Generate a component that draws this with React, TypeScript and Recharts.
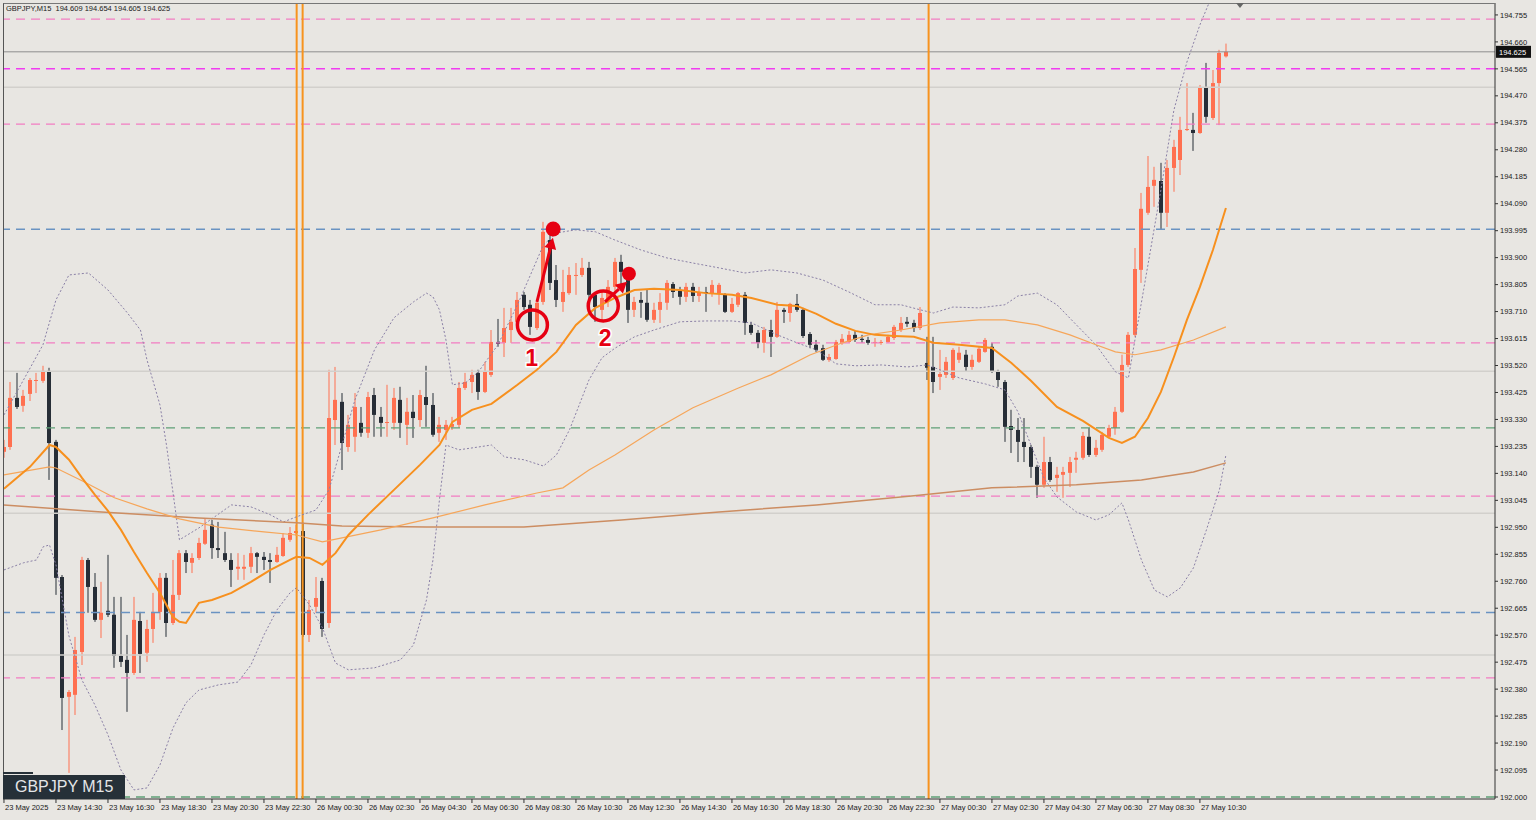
// GBPJPY M15 candlestick chart with MAs, Bollinger bands and levels
import React from 'react'
import { ComposedChart, XAxis, YAxis, Bar, Line, ReferenceLine, ReferenceDot } from 'recharts'

const opens = [
  193.216, 193.233, 193.406, 193.378, 193.420, 193.466, 193.466, 193.501, 193.251, 192.775,
  192.353, 192.360, 192.511, 192.835, 192.740, 192.624, 192.656, 192.642, 192.497, 192.483,
  192.437, 192.620, 192.508, 192.592, 192.652, 192.772, 192.613, 192.712, 192.859, 192.825,
  192.842, 192.892, 192.959, 192.877, 192.859, 192.835, 192.804, 192.804, 192.811, 192.859,
  192.846, 192.835, 192.828, 192.849, 192.906, 192.930, 192.937, 192.571, 192.670, 192.761,
  192.613, 193.328, 193.392, 193.233, 193.269, 193.318, 193.283, 193.416, 193.339, 193.318,
  193.318, 193.399, 193.311, 193.357, 193.328, 193.409, 193.381, 193.283, 193.293, 193.304,
  193.311, 193.441, 193.462, 193.494, 193.427, 193.487, 193.603, 193.600, 193.645, 193.674,
  193.769, 193.734, 193.652, 193.744, 193.962, 193.821, 193.744, 193.775, 193.836, 193.839,
  193.864, 193.769, 193.716, 193.751, 193.797, 193.885, 193.821, 193.716, 193.751, 193.741,
  193.681, 193.716, 193.741, 193.807, 193.783, 193.762, 193.797, 193.765, 193.779, 193.775,
  193.775, 193.769, 193.709, 193.734, 193.769, 193.663, 193.635, 193.600, 193.645, 193.621,
  193.716, 193.705, 193.737, 193.716, 193.631, 193.593, 193.581, 193.540, 193.543, 193.600,
  193.603, 193.628, 193.614, 193.610, 193.600, 193.600, 193.603, 193.617, 193.645, 193.674,
  193.670, 193.652, 193.529, 193.515, 193.480, 193.487, 193.476, 193.540, 193.558, 193.515,
  193.533, 193.568, 193.586, 193.498, 193.462, 193.307, 193.293, 193.251, 193.233, 193.163,
  193.100, 193.180, 193.124, 193.135, 193.142, 193.188, 193.195, 193.269, 193.205, 193.223,
  193.269, 193.300, 193.357, 193.522, 193.628, 193.857, 194.058, 194.153, 194.170, 194.058,
  194.216, 194.244, 194.350, 194.350, 194.339, 194.498, 194.392, 194.515, 194.609,
]
const highs = [
  193.258, 193.462, 193.494, 193.434, 193.476, 193.494, 193.519, 193.512, 193.258, 192.782,
  192.377, 192.564, 192.846, 192.842, 192.789, 192.758, 192.853, 192.705, 192.705, 192.571,
  192.705, 192.652, 192.624, 192.719, 192.789, 192.789, 192.835, 192.870, 192.870, 192.859,
  192.913, 192.980, 192.976, 192.969, 192.934, 192.859, 192.859, 192.853, 192.881, 192.863,
  192.863, 192.859, 192.881, 192.930, 192.951, 192.959, 192.966, 192.694, 192.775, 192.772,
  193.505, 193.515, 193.423, 193.346, 193.423, 193.374, 193.427, 193.441, 193.374, 193.452,
  193.441, 193.445, 193.406, 193.416, 193.434, 193.519, 193.423, 193.339, 193.328, 193.339,
  193.462, 193.494, 193.505, 193.505, 193.533, 193.645, 193.684, 193.723, 193.723, 193.779,
  193.779, 193.751, 193.751, 194.026, 193.998, 193.874, 193.857, 193.867, 193.881, 193.899,
  193.885, 193.779, 193.779, 193.821, 193.899, 193.910, 193.846, 193.762, 193.779, 193.786,
  193.741, 193.775, 193.821, 193.814, 193.797, 193.811, 193.811, 193.797, 193.797, 193.821,
  193.811, 193.775, 193.758, 193.779, 193.779, 193.674, 193.645, 193.656, 193.681, 193.744,
  193.723, 193.741, 193.772, 193.723, 193.638, 193.610, 193.593, 193.561, 193.610, 193.631,
  193.642, 193.642, 193.628, 193.621, 193.617, 193.610, 193.628, 193.663, 193.691, 193.691,
  193.681, 193.726, 193.621, 193.621, 193.575, 193.550, 193.581, 193.586, 193.575, 193.558,
  193.586, 193.617, 193.600, 193.505, 193.469, 193.364, 193.335, 193.335, 193.240, 193.170,
  193.269, 193.198, 193.163, 193.163, 193.198, 193.216, 193.286, 193.300, 193.258, 193.286,
  193.311, 193.374, 193.558, 193.638, 193.934, 194.128, 194.258, 194.220, 194.234, 194.244,
  194.315, 194.396, 194.515, 194.410, 194.508, 194.586, 194.561, 194.632, 194.654,
]
const lows = [
  193.195, 193.223, 193.367, 193.357, 193.395, 193.423, 193.459, 193.117, 192.712, 192.236,
  192.085, 192.289, 192.465, 192.649, 192.617, 192.560, 192.634, 192.455, 192.458, 192.300,
  192.430, 192.437, 192.476, 192.543, 192.624, 192.564, 192.606, 192.694, 192.789, 192.789,
  192.835, 192.888, 192.839, 192.842, 192.828, 192.740, 192.765, 192.765, 192.789, 192.789,
  192.800, 192.754, 192.825, 192.846, 192.899, 192.920, 192.564, 192.546, 192.649, 192.564,
  192.596, 193.240, 193.152, 193.216, 193.216, 193.269, 193.265, 193.269, 193.269, 193.269,
  193.293, 193.265, 193.240, 193.265, 193.304, 193.304, 193.269, 193.251, 193.258, 193.293,
  193.300, 193.434, 193.423, 193.399, 193.423, 193.480, 193.586, 193.550, 193.600, 193.663,
  193.716, 193.628, 193.645, 193.734, 193.786, 193.726, 193.709, 193.769, 193.769, 193.832,
  193.726, 193.674, 193.674, 193.726, 193.779, 193.804, 193.670, 193.691, 193.688, 193.674,
  193.670, 193.670, 193.716, 193.758, 193.734, 193.744, 193.744, 193.744, 193.709, 193.762,
  193.734, 193.705, 193.705, 193.726, 193.628, 193.628, 193.581, 193.565, 193.550, 193.617,
  193.670, 193.674, 193.709, 193.617, 193.581, 193.568, 193.536, 193.533, 193.540, 193.593,
  193.600, 193.603, 193.600, 193.593, 193.586, 193.593, 193.600, 193.610, 193.638, 193.656,
  193.638, 193.645, 193.469, 193.423, 193.434, 193.476, 193.469, 193.529, 193.498, 193.505,
  193.529, 193.565, 193.494, 193.445, 193.251, 193.212, 193.180, 193.180, 193.124, 193.054,
  193.089, 193.110, 193.075, 193.054, 193.092, 193.142, 193.188, 193.198, 193.198, 193.216,
  193.265, 193.276, 193.353, 193.515, 193.621, 193.811, 194.051, 194.079, 193.998, 194.008,
  194.132, 194.191, 194.346, 194.276, 194.336, 194.375, 194.385, 194.367, 194.605,
]
const closes = [
  193.233, 193.406, 193.374, 193.413, 193.469, 193.469, 193.501, 193.247, 192.772, 192.349,
  192.370, 192.518, 192.835, 192.740, 192.624, 192.649, 192.642, 192.497, 192.476, 192.437,
  192.624, 192.504, 192.592, 192.652, 192.772, 192.613, 192.712, 192.859, 192.828, 192.842,
  192.895, 192.941, 192.877, 192.870, 192.835, 192.800, 192.811, 192.811, 192.859, 192.846,
  192.835, 192.828, 192.853, 192.913, 192.930, 192.937, 192.571, 192.659, 192.701, 192.592,
  193.335, 193.399, 193.247, 193.311, 193.374, 193.283, 193.409, 193.346, 193.318, 193.321,
  193.406, 193.318, 193.357, 193.335, 193.416, 193.381, 193.276, 193.311, 193.311, 193.314,
  193.441, 193.462, 193.487, 193.427, 193.498, 193.603, 193.596, 193.652, 193.674, 193.751,
  193.726, 193.656, 193.741, 193.991, 193.811, 193.751, 193.779, 193.839, 193.839, 193.864,
  193.769, 193.726, 193.758, 193.797, 193.885, 193.850, 193.716, 193.744, 193.741, 193.681,
  193.716, 193.744, 193.811, 193.779, 193.762, 193.797, 193.765, 193.779, 193.775, 193.804,
  193.804, 193.709, 193.737, 193.775, 193.670, 193.635, 193.600, 193.645, 193.621, 193.716,
  193.709, 193.737, 193.716, 193.624, 193.593, 193.575, 193.540, 193.550, 193.603, 193.614,
  193.628, 193.610, 193.610, 193.600, 193.603, 193.603, 193.621, 193.656, 193.670, 193.667,
  193.652, 193.705, 193.512, 193.462, 193.490, 193.533, 193.575, 193.565, 193.515, 193.540,
  193.579, 193.610, 193.498, 193.469, 193.304, 193.293, 193.251, 193.233, 193.163, 193.100,
  193.180, 193.117, 193.135, 193.145, 193.180, 193.195, 193.272, 193.205, 193.230, 193.276,
  193.300, 193.357, 193.522, 193.628, 193.860, 194.072, 194.149, 194.174, 194.058, 194.216,
  194.290, 194.350, 194.353, 194.339, 194.501, 194.396, 194.515, 194.621, 194.625,
]

// indicator readings: [bar index, price]
const ma20Pts = [
  [0, 193.086], [4, 193.163], [7, 193.240], [8, 193.233], [10, 193.188], [12, 193.124], [14, 193.064],
  [16, 193.008], [18, 192.941], [20, 192.863], [22, 192.789], [24, 192.719], [26, 192.634], [27, 192.617],
  [28, 192.613], [30, 192.684], [32, 192.694], [35, 192.719], [38, 192.758], [41, 192.800], [44, 192.835],
  [45, 192.846], [47, 192.842], [49, 192.818], [51, 192.859], [53, 192.923], [56, 192.994], [60, 193.082],
  [64, 193.170], [67, 193.240], [69, 193.321], [72, 193.364], [75, 193.385], [79, 193.452], [82, 193.505],
  [85, 193.568], [88, 193.663], [91, 193.723], [94, 193.758], [97, 193.786], [100, 193.790], [104, 193.786],
  [108, 193.775], [112, 193.769], [115, 193.758], [119, 193.734], [122, 193.730], [125, 193.702],
  [128, 193.667], [131, 193.642], [134, 193.628], [137, 193.624], [140, 193.621], [143, 193.600],
  [147, 193.593], [152, 193.582], [155, 193.529], [158, 193.466], [162, 193.374], [166, 193.325],
  [170, 193.265], [172, 193.247], [174, 193.269], [176, 193.335], [178, 193.427], [180, 193.550],
  [182, 193.681], [184, 193.797], [186, 193.927], [188, 194.075],
]
const ma75Pts = [
  [0, 193.135], [7, 193.163], [8, 193.159], [12, 193.114], [17, 193.054], [22, 193.015], [27, 192.980],
  [33, 192.951], [40, 192.934], [45, 192.923], [49, 192.899], [52, 192.913], [58, 192.941], [66, 192.983],
  [74, 193.029], [82, 193.071], [86, 193.089], [90, 193.152], [94, 193.205], [100, 193.293], [106, 193.371],
  [113, 193.441], [118, 193.487], [124, 193.557], [129, 193.600], [133, 193.628], [138, 193.645],
  [144, 193.670], [150, 193.681], [154, 193.681], [159, 193.663], [164, 193.628], [168, 193.593],
  [171, 193.568], [174, 193.558], [178, 193.575], [183, 193.610], [188, 193.656],
]
const ma200Pts = [
  [0, 193.029], [15, 193.004], [30, 192.983], [45, 192.966], [52, 192.955], [65, 192.951], [80, 192.951],
  [95, 192.976], [110, 193.004], [125, 193.029], [140, 193.061], [152, 193.089], [165, 193.100],
  [175, 193.117], [183, 193.145], [188, 193.177],
]
const bbUpperPts = [
  [0, 193.346], [3, 193.469], [6, 193.593], [8, 193.751], [10, 193.839], [13, 193.846], [16, 193.786],
  [19, 193.705], [21, 193.645], [22, 193.540], [24, 193.381], [25, 193.240], [27, 192.906], [30, 192.948],
  [35, 193.029], [38, 193.022], [41, 192.994], [43, 192.969], [45, 192.987], [48, 193.011], [50, 193.082],
  [52, 193.240], [54, 193.399], [57, 193.575], [60, 193.688], [63, 193.744], [65, 193.775], [66, 193.762],
  [67, 193.716], [68, 193.610], [69, 193.452], [71, 193.459], [73, 193.498], [76, 193.593], [79, 193.734],
  [81, 193.839], [83, 193.945], [85, 193.987], [88, 193.998], [91, 193.991], [94, 193.962], [98, 193.927],
  [102, 193.899], [106, 193.881], [110, 193.864], [114, 193.846], [118, 193.857], [122, 193.846],
  [126, 193.821], [130, 193.779], [134, 193.734], [138, 193.734], [141, 193.716], [143, 193.705],
  [146, 193.726], [150, 193.723], [154, 193.734], [156, 193.765], [159, 193.775], [162, 193.734],
  [165, 193.663], [168, 193.593], [171, 193.498], [173, 193.476], [174, 193.610], [176, 193.874],
  [178, 194.139], [180, 194.420], [182, 194.589], [184, 194.720], [186, 194.830], [188, 194.920],
]
const bbLowerPts = [
  [0, 192.800], [3, 192.825], [5, 192.835], [6, 192.881], [7, 192.888], [8, 192.818], [10, 192.567],
  [12, 192.412], [14, 192.324], [16, 192.219], [18, 192.095], [20, 192.025], [22, 192.032], [24, 192.113],
  [26, 192.243], [28, 192.332], [30, 192.377], [33, 192.395], [36, 192.405], [38, 192.465], [40, 192.571],
  [42, 192.659], [44, 192.719], [45, 192.737], [47, 192.677], [49, 192.596], [51, 192.472], [53, 192.448],
  [57, 192.455], [61, 192.483], [63, 192.536], [65, 192.694], [66, 192.835], [67, 193.047], [68, 193.240],
  [70, 193.223], [73, 193.233], [75, 193.240], [77, 193.198], [80, 193.188], [83, 193.166], [85, 193.205],
  [87, 193.293], [90, 193.469], [92, 193.547], [94, 193.581], [97, 193.621], [100, 193.645], [104, 193.674],
  [108, 193.677], [112, 193.677], [115, 193.670], [119, 193.628], [122, 193.600], [125, 193.575],
  [128, 193.526], [131, 193.519], [135, 193.522], [139, 193.515], [142, 193.522], [144, 193.505],
  [147, 193.476], [151, 193.455], [154, 193.434], [156, 193.357], [158, 193.240], [160, 193.124],
  [162, 193.057], [165, 193.004], [168, 192.976], [170, 192.994], [172, 193.036], [173, 192.976],
  [175, 192.835], [177, 192.729], [179, 192.705], [181, 192.737], [183, 192.807], [185, 192.941],
  [187, 193.082], [188, 193.205],
]

const yTicks = [
  192.000, 192.095, 192.190, 192.285, 192.380, 192.475, 192.570, 192.665, 192.760, 192.855,
  192.950, 193.045, 193.140, 193.235, 193.330, 193.425, 193.520, 193.615, 193.710, 193.805,
  193.900, 193.995, 194.090, 194.185, 194.280, 194.375, 194.470, 194.565, 194.660, 194.755,
]
const tickBars = [0, 8, 16, 24, 32, 40, 48, 56, 64, 72, 80, 88, 96, 104, 112, 120, 128, 136, 144, 152, 160, 168, 176, 184]
const tickLabels = [
  '23 May 2025', '23 May 14:30', '23 May 16:30', '23 May 18:30', '23 May 20:30', '23 May 22:30',
  '26 May 00:30', '26 May 02:30', '26 May 04:30', '26 May 06:30', '26 May 08:30', '26 May 10:30',
  '26 May 12:30', '26 May 14:30', '26 May 16:30', '26 May 18:30', '26 May 20:30', '26 May 22:30',
  '27 May 00:30', '27 May 02:30', '27 May 04:30', '27 May 06:30', '27 May 08:30', '27 May 10:30',
]

const pinkLevels = [194.74, 194.37, 193.60, 193.06, 192.42]
const magentaLevels = [194.565]
const blueLevels = [194.00, 192.65]
const greenLevels = [193.30, 192.00]
const roundLevels = [194.50, 193.50, 193.00, 192.50]
const bidPrice = 194.625
const separators = [45.03, 45.95, 142.26]

const BULL = '#FF7050'
const BEAR = '#272E37'
const RED = '#E60012'
const FONT = 'Liberation Sans, Arial, sans-serif'

const toMap = (pts: number[][]) => new Map(pts.map(([k, v]) => [k, v]))
const m20 = toMap(ma20Pts)
const m75 = toMap(ma75Pts)
const m200 = toMap(ma200Pts)
const mUp = toMap(bbUpperPts)
const mLo = toMap(bbLowerPts)

const rows = opens.map((o, i) => ({
  i,
  open: o,
  high: highs[i],
  low: lows[i],
  close: closes[i],
  range: [lows[i], highs[i]],
  ma20: m20.get(i) ?? null,
  ma75: m75.get(i) ?? null,
  ma200: m200.get(i) ?? null,
  bbU: mUp.get(i) ?? null,
  bbL: mLo.get(i) ?? null,
}))

function Candle(props: any) {
  const { x, y, width, height, payload } = props
  if (!payload || x == null) return null
  const top = Math.min(y, y + height)
  const h = Math.abs(height)
  const span = payload.high - payload.low || 1
  const py = (v: number) => top + ((payload.high - v) / span) * h
  const up = payload.close >= payload.open
  const color = up ? BULL : BEAR
  const left = Math.round(x + width / 2 - 2)
  const b1 = py(Math.max(payload.open, payload.close))
  const b2 = py(Math.min(payload.open, payload.close))
  return (
    <g>
      <line x1={left + 2} x2={left + 2} y1={top} y2={top + h} stroke={color} strokeWidth={1} />
      <rect x={left} y={b1} width={4} height={Math.max(1, b2 - b1)} fill={color} />
    </g>
  )
}

function XTick(props: any) {
  const { x, y, payload } = props
  const k = tickBars.indexOf(payload.value)
  return (
    <text x={x + 1} y={y + 5} fontSize={7.5} fill="#1a1a1a" fontFamily={FONT}>
      {tickLabels[k]}
    </text>
  )
}

function Arrow(props: any) {
  const { x1, y1, x2, y2 } = props
  const a = Math.atan2(y2 - y1, x2 - x1)
  const hl = 11
  const hw = 6
  const bx = x2 - hl * Math.cos(a)
  const by = y2 - hl * Math.sin(a)
  const pts = [
    [x2, y2],
    [bx + hw * Math.sin(a), by - hw * Math.cos(a)],
    [bx - hw * Math.sin(a), by + hw * Math.cos(a)],
  ]
  return (
    <g>
      <line x1={x1} y1={y1} x2={bx} y2={by} stroke={RED} strokeWidth={3} />
      <polygon points={pts.map((p) => p.join(',')).join(' ')} fill={RED} />
    </g>
  )
}

function Num(text: string) {
  return (props: any) => {
    const { cx, cy } = props
    return (
      <text
        x={cx}
        y={cy}
        textAnchor="middle"
        dominantBaseline="central"
        fontSize={23}
        fontWeight={700}
        fontFamily={FONT}
        fill={RED}
        stroke="#ffffff"
        strokeWidth={3}
        paintOrder="stroke"
      >
        {text}
      </text>
    )
  }
}

function PriceTag(props: any) {
  const vb = props.viewBox
  if (!vb) return null
  const x = vb.x + vb.width + 1
  return (
    <g>
      <rect x={x} y={vb.y - 6} width={35} height={12} fill="#111" />
      <text x={x + 3} y={vb.y + 3} fontSize={7.5} fill="#fff" fontFamily={FONT}>
        {bidPrice.toFixed(3)}
      </text>
    </g>
  )
}

export default function App() {
  return (
    <div
      style={{
        position: 'absolute',
        left: 0,
        top: 0,
        width: 1536,
        height: 820,
        background: '#E8E6E2',
        overflow: 'hidden',
      }}
    >
      <ComposedChart
        width={1536}
        height={820}
        data={rows}
        margin={{ top: 3, right: 0, bottom: 0, left: 3 }}
      >
        <XAxis
          type="number"
          dataKey="i"
          domain={[-0.15, 229.4]}
          ticks={tickBars}
          interval={0}
          allowDataOverflow
          height={21}
          tickSize={4}
          tick={<XTick />}
          axisLine={{ stroke: '#333' }}
          tickLine={{ stroke: '#333' }}
        />
        <YAxis
          orientation="right"
          width={41}
          domain={[191.993, 194.797]}
          allowDataOverflow
          ticks={yTicks}
          interval={0}
          tickSize={3}
          tickFormatter={(v: number) => v.toFixed(3)}
          tick={{ fontSize: 7.5, fill: '#1a1a1a', fontFamily: FONT }}
          axisLine={{ stroke: '#333' }}
          tickLine={{ stroke: '#333' }}
        />

        {roundLevels.map((v) => (
          <ReferenceLine key={'r' + v} y={v} stroke="#D2D0CC" strokeWidth={1.5} />
        ))}
        {pinkLevels.map((v) => (
          <ReferenceLine key={'p' + v} y={v} stroke="#F27DC2" strokeWidth={1.2} strokeDasharray="9 6" />
        ))}
        {magentaLevels.map((v) => (
          <ReferenceLine key={'m' + v} y={v} stroke="#F03CF0" strokeWidth={1.5} strokeDasharray="9 6" />
        ))}
        {blueLevels.map((v) => (
          <ReferenceLine key={'b' + v} y={v} stroke="#6A93C2" strokeWidth={1.3} strokeDasharray="9 6" />
        ))}
        {greenLevels.map((v) => (
          <ReferenceLine key={'g' + v} y={v} stroke="#5FA077" strokeWidth={1.3} strokeDasharray="9 6" />
        ))}
        <ReferenceLine y={bidPrice} stroke="#8E8E8E" strokeWidth={1} label={PriceTag} />
        {separators.map((v) => (
          <ReferenceLine key={'s' + v} x={v} stroke="#F7931E" strokeWidth={2} />
        ))}

        <Line dataKey="bbU" type="linear" stroke="#8A80A6" strokeWidth={1} strokeDasharray="2 2" dot={false} connectNulls isAnimationActive={false} />
        <Line dataKey="bbL" type="linear" stroke="#8A80A6" strokeWidth={1} strokeDasharray="2 2" dot={false} connectNulls isAnimationActive={false} />
        <Line dataKey="ma200" type="linear" stroke="#CC8D62" strokeWidth={1.5} dot={false} connectNulls isAnimationActive={false} />
        <Line dataKey="ma75" type="linear" stroke="#F6A65A" strokeWidth={1.2} dot={false} connectNulls isAnimationActive={false} />

        <Bar dataKey="range" barSize={4} shape={Candle} isAnimationActive={false} />

        <Line dataKey="ma20" type="linear" stroke="#F7901E" strokeWidth={2} dot={false} connectNulls isAnimationActive={false} />

        <ReferenceDot x={81.3} y={193.663} r={15} fill="none" stroke={RED} strokeWidth={3.5} />
        <ReferenceLine segment={[{ x: 82.0, y: 193.744 }, { x: 84.46, y: 193.970 }]} shape={Arrow} />
        <ReferenceDot x={84.5} y={194.001} r={7.5} fill={RED} stroke="none" />
        <ReferenceDot x={81.2} y={193.547} r={1} shape={Num('1')} />

        <ReferenceDot x={92.2} y={193.730} r={15} fill="none" stroke={RED} strokeWidth={3.5} />
        <ReferenceLine segment={[{ x: 92.46, y: 193.744 }, { x: 95.85, y: 193.815 }]} shape={Arrow} />
        <ReferenceDot x={96.15} y={193.843} r={7} fill={RED} stroke="none" />
        <ReferenceDot x={92.5} y={193.617} r={1} shape={Num('2')} />
      </ComposedChart>

      {/* plot frame */}
      <div
        style={{
          position: 'absolute',
          left: 3,
          top: 3,
          width: 1492,
          height: 796,
          borderLeft: '1px solid #555',
          borderTop: '1px solid #777',
          boxSizing: 'border-box',
          pointerEvents: 'none',
        }}
      />
      <div style={{ position: 'absolute', left: 6, top: 4, fontSize: 7.5, color: '#1a1a1a', fontFamily: FONT, whiteSpace: 'pre' }}>
        {'GBPJPY,M15  194.609 194.654 194.605 194.625'}
      </div>
      <div style={{ position: 'absolute', left: 1236, top: 3, width: 0, height: 0, borderLeft: '4px solid transparent', borderRight: '4px solid transparent', borderTop: '5px solid #666' }} />
      <div style={{ position: 'absolute', left: 3, top: 772, width: 30, height: 2, background: '#263038' }} />
      <div
        style={{
          position: 'absolute',
          left: 3,
          top: 775,
          width: 122,
          height: 24,
          background: '#263038',
          color: '#E4E6E8',
          fontFamily: FONT,
          fontSize: 16,
          lineHeight: '24px',
          paddingLeft: 12,
          boxSizing: 'border-box',
        }}
      >
        GBPJPY M15
      </div>
    </div>
  )
}
